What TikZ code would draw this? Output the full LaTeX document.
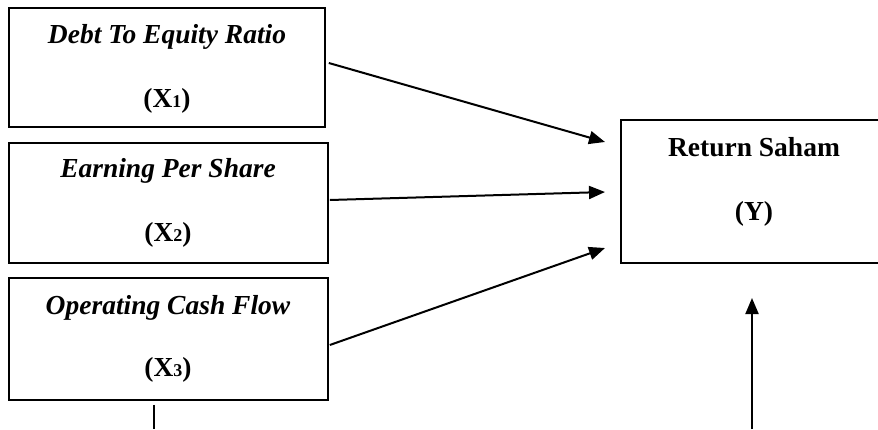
\documentclass[tikz,border=0pt]{standalone}
\usepackage{fontspec}
\setmainfont{Liberation Serif}
\usetikzlibrary{arrows.meta}
\newcommand{\sbx}[1]{{\fontsize{18}{18}\selectfont #1}}
\begin{document}
\begin{tikzpicture}[x=1pt,y=-1pt,
  box/.style={draw=black,line width=1.6pt,rectangle,inner sep=0pt},
  lbl/.style={anchor=base,inner sep=0pt,font=\fontsize{27.5}{30}\selectfont\bfseries},
  arr/.style={line width=2pt,-{Triangle[length=16pt,width=13pt]}},
  ln/.style={line width=2pt}]
\useasboundingbox (0,0) rectangle (878,429);
\clip (0,0) rectangle (878,429);
% boxes
\node[box,minimum width=316pt,minimum height=119pt] (b1) at (167,67.5) {};
\node[box,minimum width=319pt,minimum height=120pt] (b2) at (168.5,203) {};
\node[box,minimum width=319pt,minimum height=122pt] (b3) at (168.5,339) {};
\node[box,minimum width=300pt,minimum height=143pt] (y) at (771,191.5) {};
% labels
\node[lbl] (t1a) at (167,43) {\itshape Debt To Equity Ratio};
\node[lbl] (t1b) at (167,107) {(X\sbx{1})};
\node[lbl] (t2a) at (168,177) {\itshape Earning Per Share};
\node[lbl] (t2b) at (168,241) {(X\sbx{2})};
\node[lbl] (t3a) at (168,314) {\itshape Operating Cash Flow};
\node[lbl] (t3b) at (168,376) {(X\sbx{3})};
\node[lbl] (tya) at (754,156) {Return Saham};
\node[lbl] (tyb) at (754,220) {(Y)};
% arrow ends
\coordinate (e1) at (605,142);
\coordinate (e2) at (605,192);
\coordinate (e3) at (605,248);
\coordinate (ub) at (752,429);
\coordinate (ut) at (752,298);
\coordinate (db) at (154,429);
% connectors
\draw[arr] ([xshift=3pt,yshift=4.5pt]b1.east) -- (e1);
\draw[arr] ([xshift=1pt,yshift=3pt]b2.east) -- (e2);
\draw[arr] ([xshift=1pt,yshift=-6pt]b3.east) -- (e3);
\draw[arr] (ub) -- (ut);
\draw[ln] ([yshift=-4pt]b3.south -| db) -- (db);
\end{tikzpicture}
\end{document}
